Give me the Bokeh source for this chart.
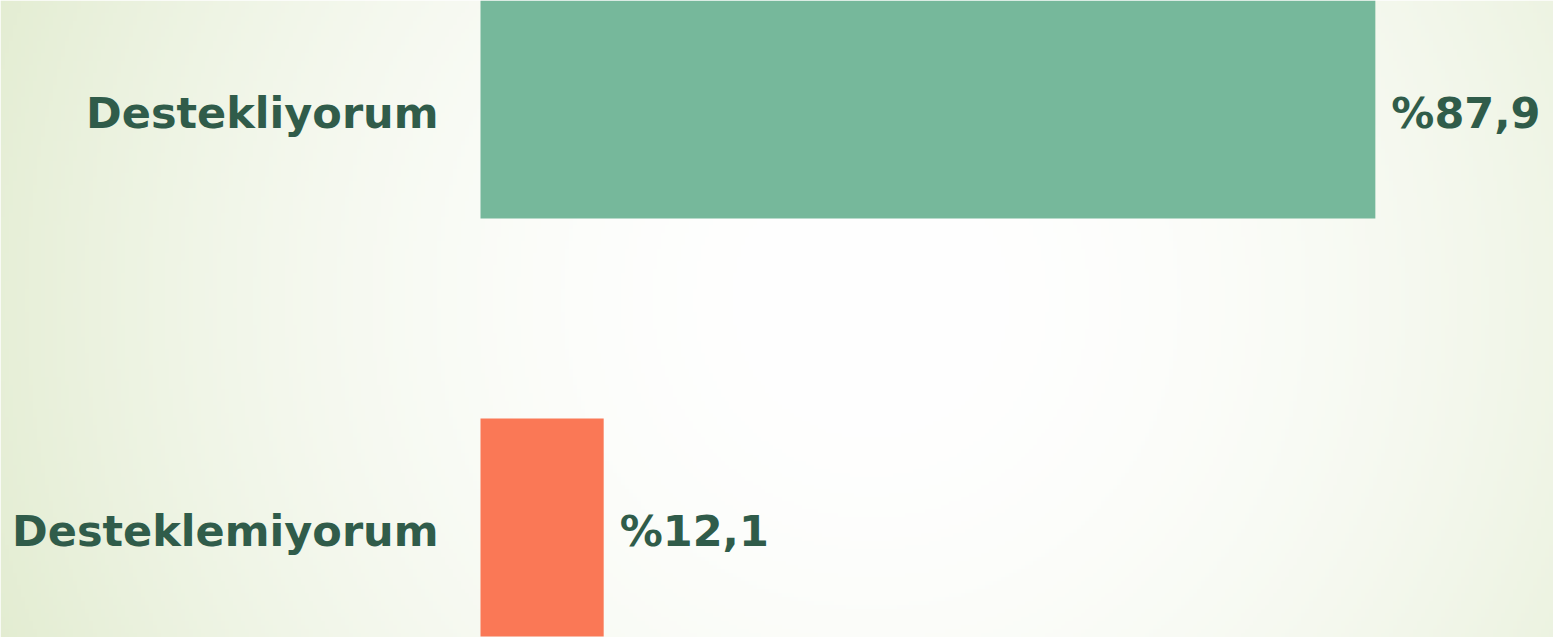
import numpy as np
from bokeh.plotting import figure
from bokeh.models import Range1d, ColumnDataSource
from bokeh.core.properties import value
from bokeh.embed import file_html
from bokeh.resources import INLINE

# ---- data ----
categories = ["Destekliyorum", "Desteklemiyorum"]
values = [87.9, 12.1]
value_labels = ["%87,9", "%12,1"]
bar_colors = ["#76b89b", "#fa7856"]

W, H = 1553, 637
TEXT_COLOR = "#305c4a"
FONT = "DejaVu Sans"

# category positions (top to bottom)
ypos = list(range(len(categories) - 1, -1, -1))

src = ColumnDataSource(dict(cat=categories, y=ypos, val=values, lab=value_labels, color=bar_colors,
                            zero=[0] * len(values)))

X0, X1 = -47.15, 105.4
Y0, Y1 = -0.2631, 1.2608

p = figure(width=W, height=H, output_backend="svg", toolbar_location=None,
           x_range=Range1d(X0, X1), y_range=Range1d(Y0, Y1),
           min_border=0, min_border_left=0, min_border_right=0,
           min_border_top=0, min_border_bottom=0)
p.axis.visible = False
p.grid.visible = False
p.outline_line_color = None
p.background_fill_color = "#ffffff"
p.border_fill_color = "#ffffff"

# ---- radial gradient background (style only) ----
nx, ny = W // 4, H // 4
xs = (np.arange(nx) + 0.5) * 4
ys = (np.arange(ny) + 0.5) * 4
X, Y = np.meshgrid(xs, ys)
cx, cy = 870, H - 300
d = np.sqrt((X - cx) ** 2 + (Y - cy) ** 2)
t = np.clip(d / 950.0, 0, 1) ** 2
edge = np.array([226, 236, 208])
white = np.array([255, 255, 255])
rgb = white[None, None, :] * (1 - t[..., None]) + edge[None, None, :] * t[..., None]
img = np.empty((ny, nx), dtype=np.uint32)
view = img.view(dtype=np.uint8).reshape((ny, nx, 4))
view[..., 0] = rgb[..., 0].astype(np.uint8)
view[..., 1] = rgb[..., 1].astype(np.uint8)
view[..., 2] = rgb[..., 2].astype(np.uint8)
view[..., 3] = 255
p.image_rgba(image=[img], x=X0, y=Y0, dw=X1 - X0, dh=Y1 - Y0)

# ---- bars ----
p.hbar(y="y", left="zero", right="val", height=0.5215, color="color", line_color=None, source=src)

# ---- labels ----
p.text(x="zero", y="y", text="cat", source=src, x_offset=-42, y_offset=3,
       text_align="right", text_baseline="middle", text_color=TEXT_COLOR,
       text_font=value(FONT), text_font_style="bold", text_font_size="43px")
p.text(x="val", y="y", text="lab", source=src, x_offset=16, y_offset=3,
       text_align="left", text_baseline="middle", text_color=TEXT_COLOR,
       text_font=value(FONT), text_font_style="bold", text_font_size="43px")

open("out.html", "w").write(file_html(p, INLINE))
